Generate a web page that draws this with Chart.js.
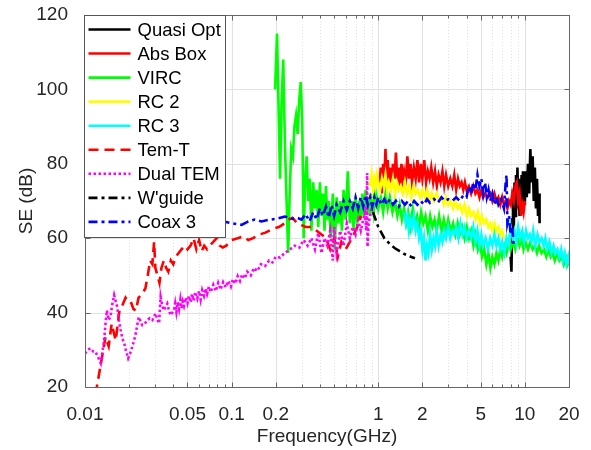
<!DOCTYPE html>
<html>
<head>
<meta charset="utf-8">
<title>Shielding effectiveness</title>
<script src="https://cdn.jsdelivr.net/npm/chart.js@4/dist/chart.umd.min.js"></script>
<style>
  html, body { margin: 0; padding: 0; background: #fff; }
  canvas { display: block; }
</style>
</head>
<body>
<canvas id="seChart" width="591" height="450"></canvas>
<script>
// frequency in GHz, SE in dB
var quasiOptFreq = [8.0, 8.1, 8.2, 8.3, 8.4, 8.5, 8.6, 8.7, 8.8, 8.9, 9.0, 9.1, 9.2, 9.3, 9.4, 9.5, 9.6, 9.7, 9.8, 9.9, 10.0, 10.1, 10.3, 10.5, 10.7, 10.9, 11.1, 11.3, 11.5, 11.7, 11.9, 12.1, 12.3, 12.5, 12.6];
var quasiOptSE   = [55, 51, 65, 73, 62, 75, 66, 77, 68, 79, 70, 76, 66, 74, 68, 77, 70, 78, 71, 76, 69, 78, 71, 80, 72, 84, 75, 82, 70, 79, 68, 76, 66, 72, 64];

var absBoxFreq = [1.02, 1.04, 1.06, 1.08, 1.10, 1.12, 1.14, 1.16, 1.18, 1.2, 1.23, 1.26, 1.29, 1.32, 1.35, 1.38, 1.41, 1.44, 1.47, 1.5,
                  1.54, 1.58, 1.62, 1.66, 1.7, 1.75, 1.8, 1.85, 1.9, 1.95, 2.0, 2.06, 2.12, 2.18, 2.24, 2.3, 2.37, 2.44, 2.51, 2.58,
                  2.66, 2.74, 2.82, 2.9, 3.0, 3.1, 3.2, 3.3, 3.4, 3.5, 3.6, 3.7, 3.8, 3.9, 4.0, 4.15, 4.3, 4.45, 4.6, 4.75,
                  4.9, 5.05, 5.2, 5.4, 5.6, 5.8, 6.0, 6.2, 6.4, 6.6, 6.8, 7.0, 7.2, 7.4, 7.6, 7.8, 8.0, 8.2, 8.4, 8.6,
                  8.8, 9.0, 9.2, 9.4, 9.6, 9.8, 10.0];
var absBoxSE   = [74, 79, 72, 80, 75, 84, 76, 81, 74, 79, 75, 80, 76, 83, 75, 79, 74, 80, 76, 78,
                  75, 82, 76, 80, 75, 79, 76, 81, 75, 80, 76, 81, 75, 78, 76, 79, 75, 78, 74, 77,
                  75, 78, 74, 77, 74, 76, 74, 77, 73, 76, 74, 75, 73, 75, 73, 74, 72, 74, 72, 73,
                  71, 73, 71, 72, 71, 72, 70, 72, 70, 71, 69, 71, 69, 70, 68, 70, 69, 72, 70, 74,
                  75, 70, 72, 66, 69, 67, 70];

var vircFreq = [0.198, 0.204, 0.209, 0.214, 0.219, 0.225, 0.231, 0.237, 0.243, 0.249, 0.255, 0.262, 0.268, 0.275, 0.282, 0.289, 0.296, 0.303, 0.31, 0.317,
                0.325, 0.333, 0.341, 0.35, 0.36, 0.37, 0.38, 0.39, 0.4, 0.41, 0.42, 0.43, 0.44, 0.45, 0.46, 0.475, 0.49, 0.505, 0.52, 0.535,
                0.55, 0.565, 0.58, 0.6, 0.62, 0.64, 0.66, 0.68, 0.7, 0.72, 0.74, 0.76, 0.78, 0.8, 0.82, 0.84, 0.86, 0.88, 0.9, 0.93,
                0.96, 1.0, 1.04, 1.08, 1.12, 1.16, 1.2, 1.25, 1.3, 1.35, 1.4, 1.45, 1.5, 1.55, 1.6, 1.66, 1.72, 1.78, 1.84, 1.9,
                1.96, 2.03, 2.1, 2.18, 2.26, 2.34, 2.42, 2.5, 2.6, 2.7, 2.8, 2.9, 3.0, 3.12, 3.24, 3.36, 3.48, 3.6, 3.74, 3.88,
                4.02, 4.16, 4.3, 4.46, 4.62, 4.78, 4.94, 5.1, 5.28, 5.46, 5.64, 5.82, 6.0, 6.2, 6.4, 6.6, 6.8, 7.0, 7.25, 7.5,
                7.75, 8.0, 8.3, 8.6, 8.9, 9.2, 9.5, 9.8, 10.1, 10.5, 10.9, 11.3, 11.7, 12.1, 12.5, 13.0, 13.5, 14.0, 14.5, 15.0,
                15.5, 16.0, 16.6, 17.2, 17.8, 18.4, 19.0, 19.6, 20];
var vircSE   = [100, 115, 95, 76, 96, 108, 85, 70, 56, 72, 84, 82, 90, 93, 88, 97, 102, 92, 60, 75,
                82, 70, 76, 62, 75, 68, 73, 63, 75, 66, 72, 62, 74, 65, 70, 60, 72, 57, 71, 64,
                70, 62, 73, 65, 78, 64, 70, 62, 71, 64, 70, 65, 72, 66, 73, 67, 71, 66, 72, 67,
                73, 68, 71, 67, 72, 68, 71, 67, 70, 66, 69, 65, 68, 64, 67, 63, 68, 64, 66, 63,
                67, 64, 66, 62, 66, 63, 65, 62, 66, 62, 65, 62, 65, 62, 64, 61, 64, 61, 63, 60,
                63, 60, 62, 58, 61, 57, 59, 55, 57, 53, 56, 52, 55, 53, 56, 54, 57, 55, 58, 56,
                59, 57, 59, 57, 60, 58, 60, 57, 59, 57, 59, 57, 58, 56, 58, 56, 57, 55, 57, 55,
                56, 54, 56, 54, 55, 53, 55, 53, 54];

var rc2Freq = [0.88, 0.9, 0.92, 0.94, 0.96, 0.98, 1.0, 1.03, 1.06, 1.09, 1.12, 1.15, 1.18, 1.22, 1.26, 1.3, 1.34, 1.38, 1.42, 1.47,
               1.52, 1.57, 1.62, 1.68, 1.74, 1.8, 1.86, 1.93, 2.0, 2.08, 2.16, 2.24, 2.32, 2.4, 2.5, 2.6, 2.7, 2.8, 2.9, 3.0,
               3.12, 3.24, 3.36, 3.48, 3.6, 3.74, 3.88, 4.02, 4.16, 4.3, 4.46, 4.62, 4.78, 4.94, 5.1, 5.28, 5.46, 5.64, 5.82, 6.0,
               6.2, 6.4, 6.6, 6.8, 7.0, 7.2];
var rc2SE   = [74, 77, 73, 76, 74, 77, 75, 73, 76, 74, 77, 73, 75, 73, 76, 72, 75, 73, 74, 72,
               75, 72, 74, 71, 74, 72, 73, 71, 73, 71, 73, 70, 72, 70, 72, 70, 71, 69, 71, 69,
               70, 68, 70, 68, 69, 67, 69, 66, 68, 66, 67, 65, 67, 64, 66, 64, 65, 63, 64, 62,
               64, 62, 63, 61, 62, 60];

var rc3Freq = [1.5, 1.54, 1.58, 1.62, 1.66, 1.7, 1.75, 1.8, 1.85, 1.9, 1.95, 2.0, 2.05, 2.1, 2.15, 2.2, 2.26, 2.32, 2.38, 2.44,
               2.5, 2.58, 2.66, 2.74, 2.82, 2.9, 3.0, 3.1, 3.2, 3.3, 3.4, 3.52, 3.64, 3.76, 3.88, 4.0, 4.15, 4.3, 4.45, 4.6,
               4.75, 4.9, 5.05, 5.2, 5.4, 5.6, 5.8, 6.0, 6.2, 6.4, 6.6, 6.8, 7.0, 7.25, 7.5, 7.75, 8.0, 8.25, 8.5, 8.75,
               9.0, 9.3, 9.6, 9.9, 10.2, 10.5, 10.8, 11.1, 11.4, 11.8, 12.2, 12.6, 13.0, 13.4, 13.8, 14.2, 14.7, 15.2, 15.7, 16.2,
               16.7, 17.2, 17.7, 18.2, 18.7, 19.2, 19.7, 20];
var rc3SE   = [67, 64, 66, 62, 65, 63, 66, 62, 64, 60, 62, 57, 60, 54, 58, 56, 61, 57, 60, 58,
               62, 58, 61, 59, 62, 60, 63, 60, 62, 61, 63, 60, 64, 61, 63, 60, 62, 60, 63, 59,
               62, 58, 61, 58, 60, 57, 60, 58, 61, 58, 60, 57, 59, 56, 60, 58, 63, 60, 62, 59,
               63, 60, 62, 59, 62, 60, 61, 59, 62, 58, 61, 59, 60, 58, 60, 57, 59, 56, 58, 56,
               57, 55, 57, 54, 56, 53, 55, 53];

var temTFreq = [0.0118, 0.0128, 0.0138, 0.0145, 0.0152, 0.0162, 0.0171, 0.018, 0.0189, 0.0197, 0.0205, 0.0214, 0.0222, 0.0232, 0.0245, 0.0258, 0.0268, 0.0278, 0.0288, 0.0296,
                0.0302, 0.0312, 0.0322, 0.0332, 0.0345, 0.0358, 0.037, 0.0385, 0.04, 0.0416, 0.0435, 0.0455, 0.048, 0.05, 0.0525, 0.055, 0.0575, 0.06, 0.0625, 0.065,
                0.068, 0.071, 0.075, 0.079, 0.083, 0.087, 0.092, 0.1, 0.11, 0.12, 0.13, 0.14, 0.155, 0.17, 0.19, 0.21, 0.23, 0.245, 0.26, 0.28,
                0.3, 0.32, 0.35, 0.38, 0.41, 0.44, 0.47, 0.5, 0.53, 0.56, 0.6, 0.64, 0.68, 0.72, 0.76];
var temTSE   = [18, 26, 33.5, 31, 37, 32.5, 40, 42, 44, 43, 43, 41, 40.5, 44, 45, 46.5, 50, 54, 53, 59,
                52, 50, 48, 52, 54, 52, 51, 54, 53, 55, 56, 57, 58, 57, 58, 60, 57, 59.5, 56.5, 58,
                57, 58, 59, 60, 58, 57.5, 58, 59.5, 60, 60.5, 59.5, 60, 61, 61.5, 62.5, 63, 64, 65, 65.5, 64,
                63.5, 63, 63, 62, 61, 60, 57, 60, 55, 59, 57, 59, 61, 63, 66];

var dualTemFreq = [0.01, 0.0105, 0.0109, 0.0114, 0.0118, 0.0123, 0.0128, 0.0131, 0.0135, 0.0138, 0.0141, 0.0145, 0.0149, 0.0153, 0.0158, 0.0162, 0.0166, 0.017, 0.0175, 0.018,
                   0.0185, 0.0191, 0.0197, 0.0203, 0.021, 0.0216, 0.0222, 0.0228, 0.0233, 0.024, 0.0246, 0.0256, 0.0266, 0.0277, 0.0288, 0.0303, 0.0312, 0.032, 0.0328, 0.0336,
                   0.0345, 0.0354, 0.0364, 0.0374, 0.0384, 0.0394, 0.0404, 0.0412, 0.042, 0.0429, 0.0438, 0.0447, 0.0455, 0.0464, 0.0473, 0.0486, 0.05, 0.0512, 0.0525, 0.0537,
                   0.055, 0.0566, 0.0583, 0.06, 0.0615, 0.063, 0.0648, 0.0665, 0.068, 0.07, 0.072, 0.075, 0.0781, 0.081, 0.0842, 0.0875, 0.0912, 0.095, 0.0988, 0.102,
                   0.106, 0.11, 0.114, 0.118, 0.123, 0.128, 0.135, 0.142, 0.15, 0.158, 0.169, 0.18, 0.19, 0.2, 0.214, 0.23, 0.25, 0.27, 0.29, 0.31,
                   0.33, 0.35, 0.37, 0.39, 0.41, 0.43, 0.45, 0.47, 0.49, 0.5, 0.52, 0.55, 0.58, 0.61, 0.64, 0.67, 0.7, 0.73, 0.76, 0.79,
                   0.81, 0.83, 0.84, 0.845, 0.86, 0.88, 0.9];
var dualTemSE   = [29, 30, 30.4, 29.5, 29.4, 28, 26.4, 29, 32.6, 37, 40.6, 38, 38.8, 42, 44.7, 43, 41.5, 38, 35.3, 33,
                   31.8, 29.5, 27.7, 29, 30.8, 32.5, 34.4, 37, 38.8, 37.5, 36.6, 37, 38, 38.5, 38, 39.8, 38, 37.1, 44.2, 42,
                   40.6, 41.5, 42.4, 40.5, 39.3, 40, 40.6, 42.5, 40.2, 42.8, 41, 43.5, 41.2, 43, 41.8, 44, 42.5, 44.5, 42.8, 45,
                   43.2, 45.5, 43.8, 45.8, 43.5, 46, 44.5, 46.5, 45, 47, 45.5, 47.5, 45.8, 48, 46.2, 48.2, 46.8, 48.5, 47, 49,
                   47.8, 49.8, 48.5, 50.3, 49.2, 51, 50, 52, 51.2, 53, 52.5, 54, 53.5, 55, 54.8, 56, 57, 58, 57.5, 59.5,
                   58, 60, 57, 61.4, 56, 60, 58, 62, 54, 63, 56, 62, 58, 64, 60, 63, 61, 64.9, 62, 65,
                   66.7, 62, 77.5, 57.7, 64, 66, 68];

var wguideFreq = [0.92, 0.96, 1.0, 1.05, 1.1, 1.15, 1.2, 1.3, 1.4, 1.5, 1.6, 1.7, 1.78];
var wguideSE   = [67, 65, 63, 61.5, 60, 59.2, 58.4, 57.3, 56.5, 55.8, 55.3, 54.9, 54.6];

var coax3Freq = [0.045, 0.06, 0.075, 0.09, 0.1, 0.117, 0.13, 0.144, 0.16, 0.178, 0.2, 0.23, 0.26, 0.28, 0.3, 0.32, 0.34, 0.36, 0.38, 0.4,
                 0.42, 0.44, 0.46, 0.48, 0.5, 0.52, 0.55, 0.58, 0.61, 0.64, 0.67, 0.7, 0.73, 0.76, 0.79, 0.82, 0.85, 0.88, 0.91, 0.94,
                 0.97, 1.0, 1.05, 1.1, 1.15, 1.2, 1.26, 1.32, 1.38, 1.45, 1.52, 1.6, 1.68, 1.76, 1.85, 1.95, 2.05, 2.15, 2.25, 2.4,
                 2.55, 2.7, 2.85, 3.0, 3.2, 3.4, 3.6, 3.8, 4.0, 4.15, 4.3, 4.45, 4.6, 4.75, 4.9, 5.05, 5.2, 5.35, 5.5, 5.65,
                 5.8, 6.0, 6.2, 6.4, 6.6, 6.9, 7.2, 7.4, 7.5, 7.6, 7.8, 8.0, 8.2, 8.4];
var coax3SE   = [64, 64.5, 64, 64.4, 64, 63.6, 64.5, 65, 64.5, 64.9, 65.2, 65.8, 65.2, 65.5, 65, 66.5, 64.5, 67, 65, 68,
                 66, 68.5, 65.5, 69, 66, 69, 67, 70, 67.5, 70, 68, 71, 68, 71, 68.5, 71.5, 69, 71, 68.5, 71,
                 69, 71, 69, 70.5, 69, 70.5, 69, 70, 68.5, 70, 69, 70, 68.5, 70, 69, 70, 69, 70.5, 69.5, 70.5,
                 69.5, 71, 70, 70.5, 70, 71, 70, 71.5, 71, 74, 72, 75, 73, 77, 74, 76, 72, 75, 71, 73,
                 70, 72, 69, 71, 69, 70.5, 68, 75, 77, 64, 66, 61, 63, 58];

// axis ticks
var xTickValues = [0.01, 0.05, 0.1, 0.2, 1, 2, 5, 10, 20];
var xTickLabels = ['0.01', '0.05', '0.1', '0.2', '1', '2', '5', '10', '20'];
var xMinorValues = [0.02, 0.03, 0.04, 0.06, 0.07, 0.08, 0.09, 0.3, 0.4, 0.5, 0.6, 0.7, 0.8, 0.9, 3, 4, 6, 7, 8, 9];
var yTickValues = [20, 40, 60, 80, 100, 120];

var seriesNames = ['Quasi Opt', 'Abs Box', 'VIRC', 'RC 2', 'RC 3', 'Tem-T', 'Dual TEM', "W'guide", 'Coax 3'];

function pairs(freq, se) {
    return freq.map(function(f, i) { return { x: f, y: se[i] }; });
}

var lineStyles = [
    { color: '#000000', dash: [] },
    { color: '#ff0000', dash: [] },
    { color: '#00ff00', dash: [] },
    { color: '#ffff00', dash: [] },
    { color: '#00ffff', dash: [] },
    { color: '#ff0000', dash: [10, 6] },
    { color: '#ff00ff', dash: [2.5, 2.5] },
    { color: '#000000', dash: [9, 4, 3, 4] },
    { color: '#0000ff', dash: [9, 4, 3, 4] }
];
var LINE_W = 2.6;

var seriesData = [
    pairs(quasiOptFreq, quasiOptSE),
    pairs(absBoxFreq, absBoxSE),
    pairs(vircFreq, vircSE),
    pairs(rc2Freq, rc2SE),
    pairs(rc3Freq, rc3SE),
    pairs(temTFreq, temTSE),
    pairs(dualTemFreq, dualTemSE),
    pairs(wguideFreq, wguideSE),
    pairs(coax3Freq, coax3SE)
];

var datasets = seriesData.map(function(d, i) {
    return {
        label: seriesNames[i],
        data: d,
        showLine: true,
        borderColor: lineStyles[i].color,
        backgroundColor: lineStyles[i].color,
        borderWidth: LINE_W,
        borderDash: lineStyles[i].dash,
        pointRadius: 0,
        tension: 0,
        // later series sit on top
        order: seriesNames.length - i
    };
});

var AXIS_COLOR = '#666666';
var TEXT_COLOR = '#262626';

// grid behind the data: solid at labelled ticks, dotted at log minors
var gridPlugin = {
    id: 'matlabGrid',
    beforeDatasetsDraw: function(chart) {
        var ctx = chart.ctx, a = chart.chartArea;
        var xs = chart.scales.x, ys = chart.scales.y;
        ctx.save();
        ctx.lineWidth = 1;
        ctx.strokeStyle = '#e2e2e2';
        ctx.setLineDash([]);
        yTickValues.forEach(function(v) {
            var y = Math.round(ys.getPixelForValue(v)) + 0.5;
            ctx.beginPath(); ctx.moveTo(a.left, y); ctx.lineTo(a.right, y); ctx.stroke();
        });
        xTickValues.forEach(function(v) {
            var x = Math.round(xs.getPixelForValue(v)) + 0.5;
            ctx.beginPath(); ctx.moveTo(x, a.top); ctx.lineTo(x, a.bottom); ctx.stroke();
        });
        ctx.strokeStyle = '#e4e4e4';
        ctx.setLineDash([1, 2]);
        xMinorValues.forEach(function(v) {
            var x = Math.round(xs.getPixelForValue(v)) + 0.5;
            ctx.beginPath(); ctx.moveTo(x, a.top); ctx.lineTo(x, a.bottom); ctx.stroke();
        });
        ctx.restore();
    }
};

// box round the axes with inward ticks, then the legend inside the top-left corner
var frameLegendPlugin = {
    id: 'frameLegend',
    afterDatasetsDraw: function(chart) {
        var ctx = chart.ctx, a = chart.chartArea;
        var xs = chart.scales.x, ys = chart.scales.y;
        var l = Math.round(a.left) + 0.5, r = Math.round(a.right) + 0.5;
        var t = Math.round(a.top) + 0.5, b = Math.round(a.bottom) + 0.5;
        ctx.save();
        ctx.strokeStyle = AXIS_COLOR;
        ctx.lineWidth = 1;
        ctx.setLineDash([]);
        ctx.strokeRect(l, t, r - l, b - t);
        ctx.beginPath();
        xTickValues.forEach(function(v) {
            var x = Math.round(xs.getPixelForValue(v)) + 0.5;
            ctx.moveTo(x, b); ctx.lineTo(x, b - 5);
            ctx.moveTo(x, t); ctx.lineTo(x, t + 5);
        });
        xMinorValues.forEach(function(v) {
            var x = Math.round(xs.getPixelForValue(v)) + 0.5;
            ctx.moveTo(x, b); ctx.lineTo(x, b - 3);
            ctx.moveTo(x, t); ctx.lineTo(x, t + 3);
        });
        yTickValues.forEach(function(v) {
            var y = Math.round(ys.getPixelForValue(v)) + 0.5;
            ctx.moveTo(l, y); ctx.lineTo(l + 5, y);
            ctx.moveTo(r, y); ctx.lineTo(r - 5, y);
        });
        ctx.stroke();
        ctx.restore();
    },
    afterDraw: function(chart) {
        var ctx = chart.ctx, a = chart.chartArea;
        var bx = Math.round(a.left) - 0.5, by = Math.round(a.top) + 0.5;
        var bw = 141, bh = 222, rowH = 24.05;
        ctx.save();
        ctx.fillStyle = '#ffffff';
        ctx.fillRect(bx, by, bw, bh);
        ctx.strokeStyle = '#555555';
        ctx.lineWidth = 1;
        ctx.strokeRect(bx, by, bw, bh);
        ctx.font = '18.5px "Liberation Sans", Arial, sans-serif';
        ctx.textBaseline = 'middle';
        ctx.textAlign = 'left';
        seriesNames.forEach(function(name, i) {
            var y = by + 14 + i * rowH;
            ctx.strokeStyle = lineStyles[i].color;
            ctx.lineWidth = LINE_W;
            ctx.setLineDash(lineStyles[i].dash);
            ctx.beginPath();
            ctx.moveTo(bx + 4, y);
            ctx.lineTo(bx + 46, y);
            ctx.stroke();
            ctx.fillStyle = '#000000';
            ctx.fillText(name, bx + 53, y + 1);
        });
        ctx.restore();
    }
};

Chart.defaults.font.family = '"Liberation Sans", Arial, sans-serif';
Chart.defaults.color = TEXT_COLOR;

new Chart(document.getElementById('seChart'), {
    type: 'scatter',
    data: { datasets: datasets },
    options: {
        responsive: false,
        animation: false,
        layout: { padding: { top: 15, right: 22, left: 0, bottom: 0 } },
        plugins: {
            legend: { display: false },
            tooltip: { enabled: false }
        },
        scales: {
            x: {
                type: 'logarithmic',
                min: 0.01,
                max: 20,
                grid: { display: false },
                border: { display: false },
                ticks: {
                    autoSkip: false,
                    maxRotation: 0,
                    padding: 8,
                    font: { size: 19 },
                    color: TEXT_COLOR,
                    callback: function(value) {
                        var i = xTickValues.indexOf(value);
                        return i >= 0 ? xTickLabels[i] : '';
                    }
                },
                afterBuildTicks: function(scale) {
                    scale.ticks = xTickValues.map(function(v) { return { value: v }; });
                },
                afterFit: function(scale) { scale.height = 63; },
                title: {
                    display: true,
                    text: 'Frequency(GHz)',
                    font: { size: 19 },
                    color: TEXT_COLOR,
                    padding: { top: 0, bottom: 2 }
                }
            },
            y: {
                min: 20,
                max: 120,
                grid: { display: false },
                border: { display: false },
                ticks: {
                    stepSize: 20,
                    padding: 9,
                    font: { size: 19 },
                    color: TEXT_COLOR
                },
                afterFit: function(scale) {
                    scale.width = 85;
                    // let the plot box run right up to the layout padding
                    scale.paddingTop = 0;
                    scale.paddingBottom = 0;
                },
                title: {
                    display: true,
                    text: 'SE (dB)',
                    font: { size: 19 },
                    color: TEXT_COLOR,
                    padding: { top: 15, bottom: 0 }
                }
            }
        }
    },
    plugins: [gridPlugin, frameLegendPlugin]
});
</script>
</body>
</html>
